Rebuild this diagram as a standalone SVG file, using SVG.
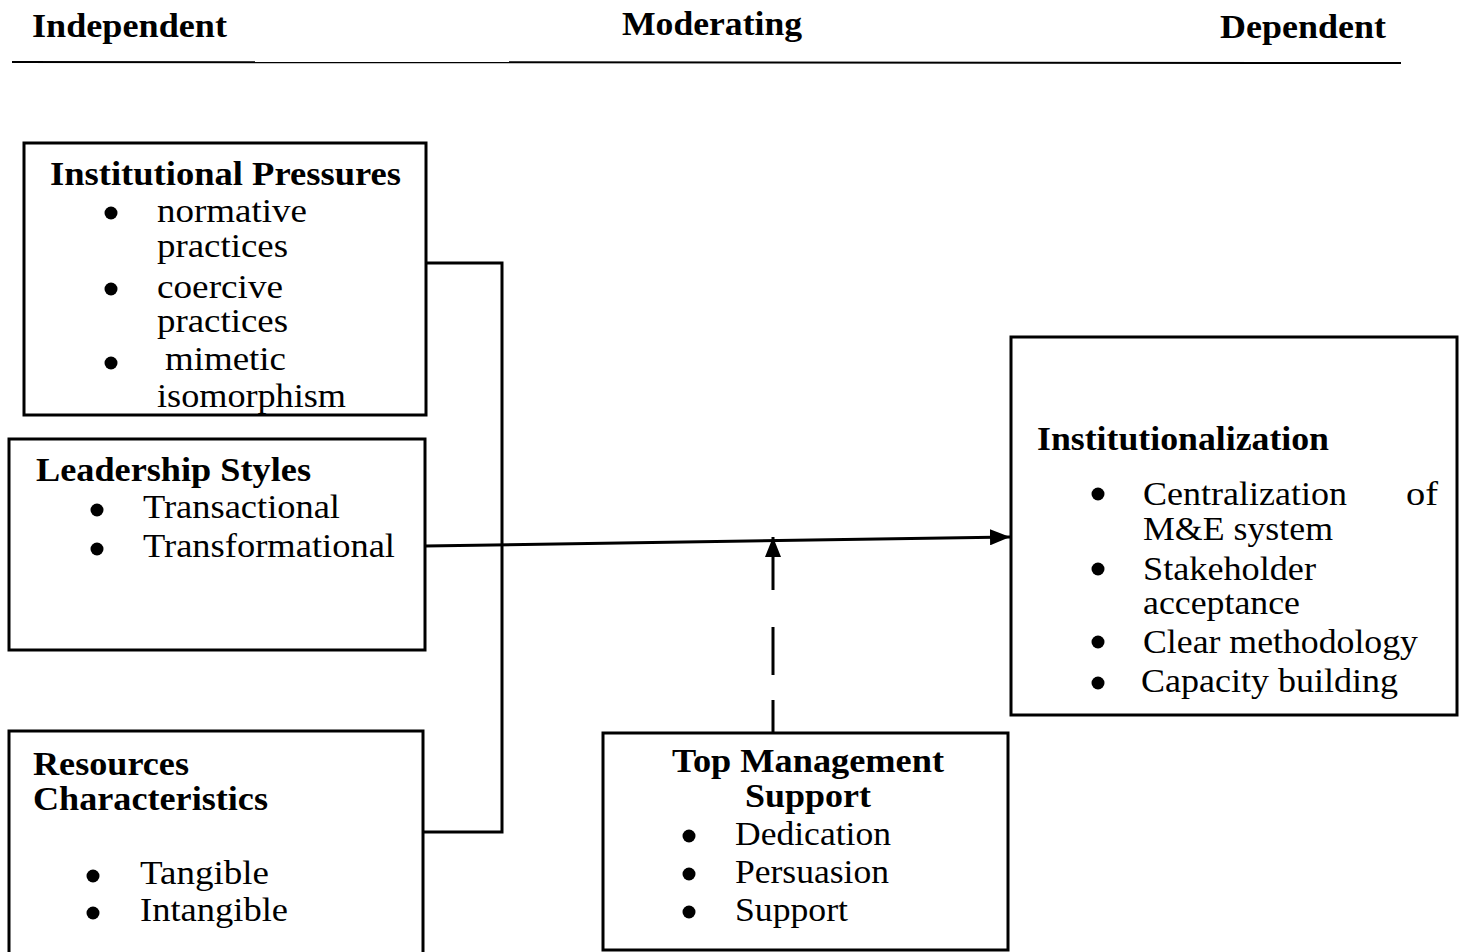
<svg xmlns="http://www.w3.org/2000/svg" width="1464" height="952" viewBox="0 0 1464 952" font-family="'Liberation Serif', 'Times New Roman', serif">
<defs>
<style>
text{font-family:"Liberation Serif","Times New Roman",serif;fill:#000;}
.h{font-size:34px;font-weight:bold;}
.t{font-size:33px;font-weight:bold;}
.b{font-size:33px;}
.box{fill:#fff;stroke:#000;stroke-width:3;}
.ln{fill:none;stroke:#000;stroke-width:3;}
</style>
<marker id="ah" markerWidth="20" markerHeight="16" refX="20" refY="8" orient="auto" markerUnits="userSpaceOnUse">
<path d="M0,0 L20,8 L0,16 Z" fill="#000"/>
</marker>
<clipPath id="c1"><rect x="24" y="143" width="402" height="271"/></clipPath>
</defs>
<g id="header">
<text class="h" x="32" y="37" textLength="195" lengthAdjust="spacingAndGlyphs">Independent</text>
<text class="h" x="622" y="35" textLength="180" lengthAdjust="spacingAndGlyphs">Moderating</text>
<text class="h" x="1220" y="38" textLength="166" lengthAdjust="spacingAndGlyphs">Dependent</text>
<line x1="12" y1="62" x2="1401" y2="63" stroke="#000" stroke-width="2"/>
</g>
<g id="connectors">
<polyline class="ln" points="426,263 502,263 502,832 424,832"/>
<line class="ln" x1="425" y1="546" x2="1010" y2="537" marker-end="url(#ah)"/>
<line class="ln" x1="773" y1="732" x2="773" y2="537" stroke-dasharray="32,25,48,37,80" marker-end="url(#ah)"/>
</g>
<g id="institutional-pressures">
<rect class="box" x="24" y="143" width="402" height="272"/>
<g clip-path="url(#c1)">
<text class="t" x="50" y="185" textLength="351" lengthAdjust="spacingAndGlyphs">Institutional Pressures</text>
<circle cx="111" cy="213" r="6.5"/>
<text class="b" x="157" y="222" textLength="150" lengthAdjust="spacingAndGlyphs">normative</text>
<text class="b" x="157" y="257" textLength="131" lengthAdjust="spacingAndGlyphs">practices</text>
<circle cx="111" cy="289" r="6.5"/>
<text class="b" x="157" y="298" textLength="126" lengthAdjust="spacingAndGlyphs">coercive</text>
<text class="b" x="157" y="332" textLength="131" lengthAdjust="spacingAndGlyphs">practices</text>
<circle cx="111" cy="363" r="6.5"/>
<text class="b" x="165" y="370" textLength="121" lengthAdjust="spacingAndGlyphs">mimetic</text>
<text class="b" x="157" y="407" textLength="189" lengthAdjust="spacingAndGlyphs">isomorphism</text>
</g>
</g>
<g id="leadership-styles">
<rect class="box" x="9" y="439" width="416" height="211"/>
<text class="t" x="36" y="481" textLength="275" lengthAdjust="spacingAndGlyphs">Leadership Styles</text>
<circle cx="97" cy="510" r="6.5"/>
<text class="b" x="143" y="518" textLength="197" lengthAdjust="spacingAndGlyphs">Transactional</text>
<circle cx="97" cy="549" r="6.5"/>
<text class="b" x="143" y="557" textLength="252" lengthAdjust="spacingAndGlyphs">Transformational</text>
</g>
<g id="resources-characteristics">
<rect class="box" x="9" y="731" width="414" height="240"/>
<text class="t" x="33" y="775" textLength="156" lengthAdjust="spacingAndGlyphs">Resources</text>
<text class="t" x="33" y="810" textLength="235" lengthAdjust="spacingAndGlyphs">Characteristics</text>
<circle cx="93" cy="876" r="6.5"/>
<text class="b" x="140" y="884" textLength="129" lengthAdjust="spacingAndGlyphs">Tangible</text>
<circle cx="93" cy="913" r="6.5"/>
<text class="b" x="140" y="921" textLength="148" lengthAdjust="spacingAndGlyphs">Intangible</text>
</g>
<g id="top-management-support">
<rect class="box" x="603" y="733" width="405" height="217"/>
<text class="t" x="672" y="772" textLength="272" lengthAdjust="spacingAndGlyphs">Top Management</text>
<text class="t" x="745" y="807" textLength="126" lengthAdjust="spacingAndGlyphs">Support</text>
<circle cx="689" cy="836" r="6.5"/>
<text class="b" x="735" y="845" textLength="156" lengthAdjust="spacingAndGlyphs">Dedication</text>
<circle cx="689" cy="874" r="6.5"/>
<text class="b" x="735" y="883" textLength="154" lengthAdjust="spacingAndGlyphs">Persuasion</text>
<circle cx="689" cy="912" r="6.5"/>
<text class="b" x="735" y="921" textLength="113" lengthAdjust="spacingAndGlyphs">Support</text>
</g>
<g id="institutionalization">
<rect class="box" x="1011" y="337" width="446" height="378"/>
<text class="t" x="1037" y="450" textLength="292" lengthAdjust="spacingAndGlyphs">Institutionalization</text>
<circle cx="1098" cy="494" r="6.5"/>
<text class="b" x="1143" y="505" textLength="204" lengthAdjust="spacingAndGlyphs">Centralization</text>
<text class="b" x="1406" y="505" textLength="32" lengthAdjust="spacingAndGlyphs">of</text>
<text class="b" x="1143" y="540" textLength="190" lengthAdjust="spacingAndGlyphs">M&amp;E system</text>
<circle cx="1098" cy="569" r="6.5"/>
<text class="b" x="1143" y="580" textLength="173" lengthAdjust="spacingAndGlyphs">Stakeholder</text>
<text class="b" x="1143" y="614" textLength="157" lengthAdjust="spacingAndGlyphs">acceptance</text>
<circle cx="1098" cy="642" r="6.5"/>
<text class="b" x="1143" y="653" textLength="275" lengthAdjust="spacingAndGlyphs">Clear methodology</text>
<circle cx="1098" cy="683" r="6.5"/>
<text class="b" x="1141" y="692" textLength="257" lengthAdjust="spacingAndGlyphs">Capacity building</text>
</g>
</svg>
